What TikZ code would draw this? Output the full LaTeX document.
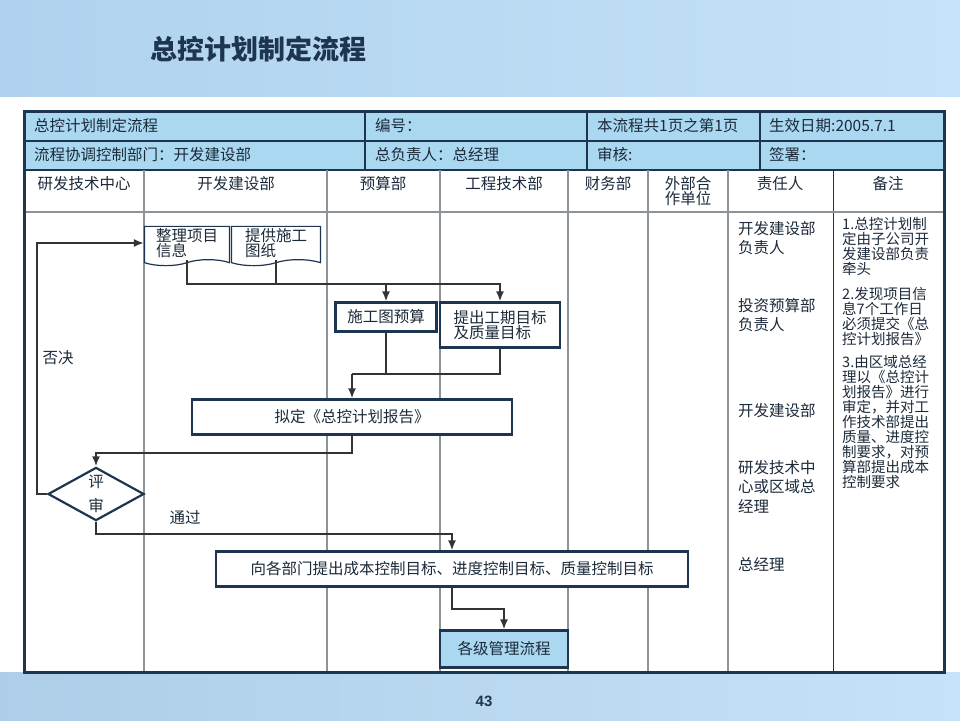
\documentclass[tikz,border=0pt]{standalone}
\usepackage{fontspec}
\setmainfont{Noto Sans CJK SC}
\newfontfamily\numfont{Liberation Sans}
\usetikzlibrary{arrows.meta,shapes.geometric,shapes.symbols,calc}

\definecolor{bandblue}{HTML}{B0D2EE}
\definecolor{bandlight}{HTML}{C4E2F8}
\definecolor{headblue}{HTML}{A9D8F0}
\definecolor{navy}{HTML}{1E3550}
\definecolor{textcol}{HTML}{1C2A3A}
\definecolor{linecol}{HTML}{333333}
\definecolor{gridcol}{HTML}{8C9499}

\tikzset{
  lane/.style={draw=gridcol, line width=1.5pt},
  headline/.style={draw=navy, line width=1.2pt},
  procbox/.style={draw=navy, line width=2.2pt, fill=white, align=center, inner sep=2pt},
  docbox/.style={tape, tape bend top=none, tape bend bottom=in and out, tape bend height=6pt,
    draw=navy, line width=1.2pt, fill=white, align=left, inner sep=2pt},
  flow/.style={draw=linecol, line width=1.8pt},
  arr/.style={flow, -{Latex[length=10pt,width=8pt]}},
}

\begin{document}
\begin{tikzpicture}[x=1pt, y=-1pt,
    every node/.style={font=\fontsize{15.5}{16}\selectfont, text=textcol, inner sep=0pt}]
  % background
  \useasboundingbox (0,0) rectangle (960,720);
  \shade[left color=bandblue, right color=bandlight] (0,0) rectangle (960,97);
  \shade[left color=bandblue!95!gray, right color=bandlight] (0,672) rectangle (960,720);
  \fill[white] (0,97) rectangle (960,672);
  \node[font=\fontsize{27}{28}\selectfont\bfseries, text=navy] (title) at (258,49) {总控计划制定流程};
  \node[font=\numfont\fontsize{15}{16}\selectfont\bfseries, text=navy] (pageno) at (484,701) {43};

  % table head
  \fill[headblue] (24,111) rectangle (944,170);
  \draw[headline] (24,141) -- (944,141);
  \draw[headline] (24,170) -- (944,170);
  \foreach \x in {365,587,760}
    \draw[headline] (\x,111) -- (\x,170);
  \node[anchor=west] (h11) at (34,126) {总控计划制定流程};
  \node[anchor=west] (h12) at (375,126) {编号：};
  \node[anchor=west] (h13) at (597,126) {本流程共1页之第1页};
  \node[anchor=west] (h14) at (769,126) {生效日期:2005.7.1};
  \node[anchor=west] (h21) at (34,155) {流程协调控制部门：开发建设部};
  \node[anchor=west] (h22) at (375,155) {总负责人：总经理};
  \node[anchor=west] (h23) at (597,155) {审核:};
  \node[anchor=west] (h24) at (769,155) {签署：};

  % lanes
  \foreach \x in {144,327,440,568,648,728}
    \draw[lane] (\x,170) -- (\x,672);
  \draw[draw=navy, line width=1pt] (833,170) -- (833,672);
  \draw[lane] (24,212) -- (944,212);
  \node (c1) at (84,184) {研发技术中心};
  \node (c2) at (236,184) {开发建设部};
  \node (c3) at (383,184) {预算部};
  \node (c4) at (504,184) {工程技术部};
  \node (c5) at (608,184) {财务部};
  \node[align=center, font=\fontsize{15.5}{15}\selectfont] (c6) at (688,191) {外部合\\作单位};
  \node (c7) at (780,184) {责任人};
  \node (c8) at (888,184) {备注};

  % flow
  \node[docbox, minimum width=85pt, minimum height=39pt, font=\fontsize{15.5}{15}\selectfont] (doc1) at (187,243) {整理项目\\信息};
  \node[docbox, minimum width=89pt, minimum height=39pt, font=\fontsize{15.5}{15}\selectfont] (doc2) at (276,243) {提供施工\\图纸};
  \node[procbox, minimum width=101pt, minimum height=29pt] (budget) at (386,317) {施工图预算};
  \node[procbox, minimum width=120pt, minimum height=45pt, align=left, font=\fontsize{15.5}{15}\selectfont] (target) at (500,325) {提出工期目标\\及质量目标};
  \node[procbox, minimum width=320pt, minimum height=35pt] (draft) at (352,417) {拟定《总控计划报告》};
  \node[diamond, draw=navy, line width=2.2pt, fill=white, minimum width=96pt, minimum height=44pt,
    inner sep=0pt, align=center, font=\fontsize{15.5}{24}\selectfont] (review) at (96,494) {评\\审};
  \node[procbox, minimum width=472pt, minimum height=35pt] (dist) at (452,569) {向各部门提出成本控制目标、进度控制目标、质量控制目标};
  \node[procbox, fill=headblue, minimum width=128pt, minimum height=37pt] (final) at (504,649) {各级管理流程};

  \coordinate (bus1) at (0,284);
  \coordinate (bus2) at (0,374);
  \coordinate (bus3) at (0,453);
  \coordinate (bus4) at (0,534);
  \coordinate (bus5) at (0,609);
  \coordinate (loopx) at (37,0);

  \draw[arr] (doc1.south) |- (bus1 -| target) -- (target.north);
  \draw[flow] (doc2.south) -- (doc2.south |- bus1);
  \draw[arr] (bus1 -| budget) -- (budget.north);
  \draw[flow] (target.south) |- (bus2 -| draft);
  \draw[flow] (budget.south) -- (budget.south |- bus2);
  \draw[arr] (bus2 -| draft) -- (draft.north);
  \draw[arr] (draft.south) |- (bus3 -| review) -- (review.north);
  \draw[arr] (review.west) -| (loopx |- doc1) -- (doc1.west);
  \draw[arr] (review.south) |- (bus4 -| dist) -- (dist.north);
  \draw[arr] (dist.south) |- (bus5 -| final) -- (final.north);
  \node (reject) at (58,358) {否决};
  \node (pass) at (185,518) {通过};

  % responsible persons
  \begin{scope}[every node/.append style={anchor=north west, align=left, font=\fontsize{15.5}{19.5}\selectfont}]
    \node (r1) at (738,221) {开发建设部\\负责人};
    \node (r2) at (738,298) {投资预算部\\负责人};
    \node (r3) at (738,403) {开发建设部};
    \node (r4) at (738,460) {研发技术中\\心或区域总\\经理};
    \node (r5) at (738,557) {总经理};
  \end{scope}

  % notes
  \begin{scope}[every node/.append style={anchor=north west, align=left, font=\fontsize{14.5}{15}\selectfont}]
    \node (n1) at (842,217) {1.总控计划制\\定由子公司开\\发建设部负责\\牵头};
    \node (n2) at (842,287) {2.发现项目信\\息7个工作日\\必须提交《总\\控计划报告》};
    \node (n3) at (842,355) {3.由区域总经\\理以《总控计\\划报告》进行\\审定，并对工\\作技术部提出\\质量、进度控\\制要求，对预\\算部提出成本\\控制要求};
  \end{scope}

  % outer frame
  \draw[draw=navy, line width=3pt] (24,111) rectangle (944,672);
\end{tikzpicture}
\end{document}
